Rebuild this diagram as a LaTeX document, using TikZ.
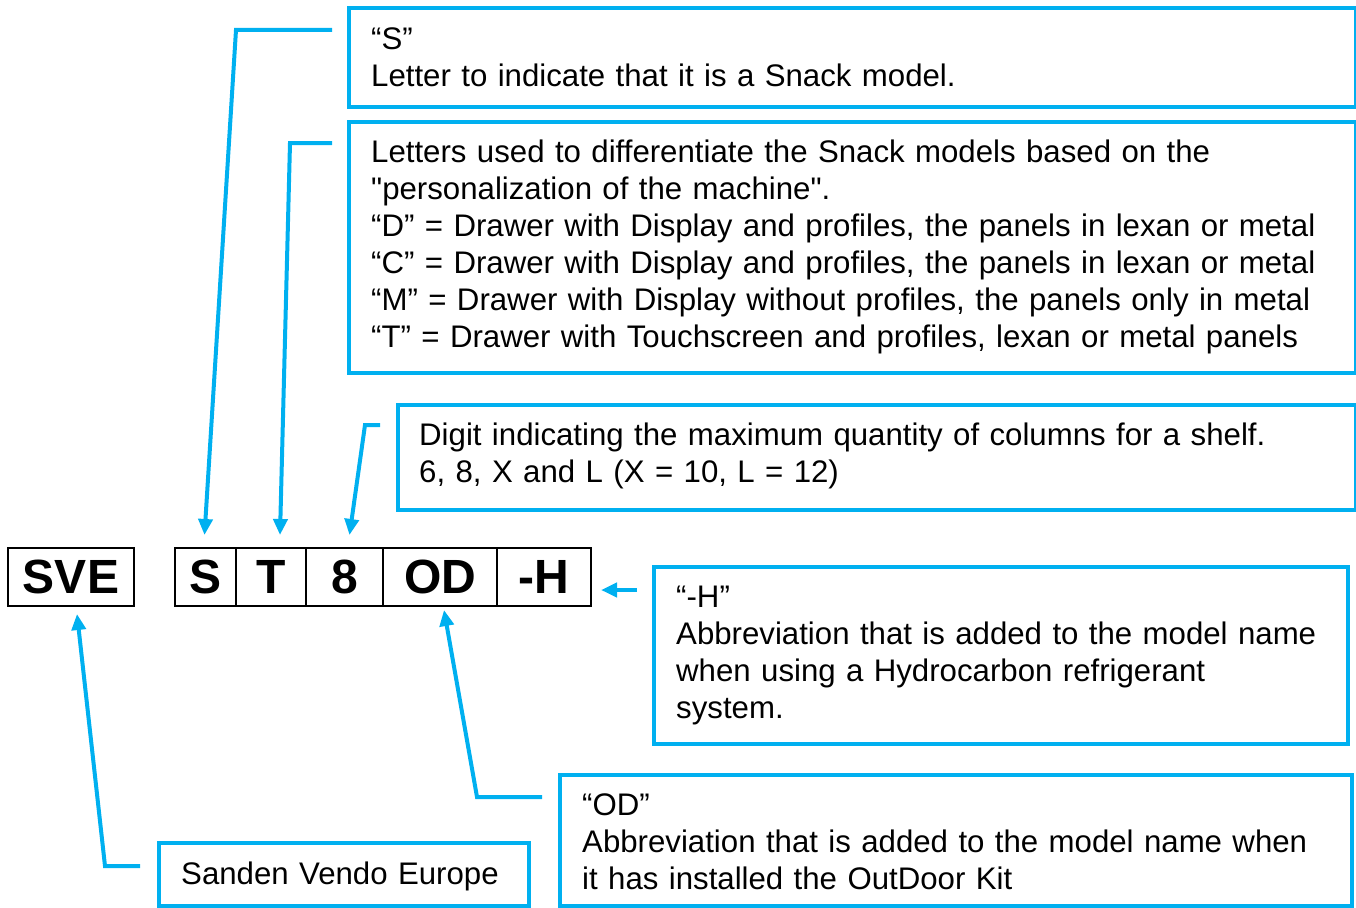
\documentclass[tikz,border=0pt]{standalone}
\usepackage{fontspec}
\setmainfont{Liberation Sans}[Ligatures=TeXOff]
\usetikzlibrary{arrows.meta,calc}
\definecolor{sky}{RGB}{0,176,240}
\tikzset{
  bluebox/.style={draw=sky, line width=4pt, anchor=north west, inner sep=0pt},
  txt/.style={anchor=base west, inner sep=0pt, align=left, text width=#1, font=\fontsize{31.2}{37}\selectfont},
  cell/.style={draw=black, line width=2pt, minimum height=58pt, inner sep=0pt, outer sep=0pt, anchor=west, font=\fontsize{48}{48}\selectfont\bfseries},
  conn/.style={draw=sky, line width=4pt, line join=miter, -{Triangle[length=16pt,width=14pt]}}
}
\begin{document}
\begin{tikzpicture}[x=1pt,y=-1pt]
\useasboundingbox (0,0) rectangle (1356,907);
% text boxes
\node[bluebox, minimum width=1007pt, minimum height=99pt] (b1) at (347,6) {};
\node[bluebox, minimum width=1007pt, minimum height=251pt] (b2) at (347,120) {};
\node[bluebox, minimum width=958pt, minimum height=105pt] (b3) at (396,403) {};
\node[bluebox, minimum width=694pt, minimum height=177pt] (b4) at (652,565) {};
\node[bluebox, minimum width=792pt, minimum height=131pt] (b5) at (558,773) {};
\node[bluebox, minimum width=370pt, minimum height=63pt] (b6) at (157,841) {};
% texts
\node[txt=980pt] (t1) at (371,49.5) {“S”\\Letter to indicate that it is a Snack model.};
\node[txt=980pt] (t2) at (371,162.5) {Letters used to differentiate the Snack models based on the\\"personalization of the machine".\\“D” = Drawer with Display and profiles, the panels in lexan or metal\\“C” = Drawer with Display and profiles, the panels in lexan or metal\\“M” = Drawer with Display without profiles, the panels only in metal\\“T” = Drawer with Touchscreen and profiles, lexan or metal panels};
\node[txt=930pt] (t3) at (419,445.5) {Digit indicating the maximum quantity of columns for a shelf.\\6, 8, X and L (X = 10, L = 12)};
\node[txt=670pt] (t4) at (676,607.5) {“-H”\\Abbreviation that is added to the model name\\when using a Hydrocarbon refrigerant\\system.};
\node[txt=770pt] (t5) at (582,815.5) {“OD”\\Abbreviation that is added to the model name when\\it has installed the OutDoor Kit};
\node[txt=340pt] (t6) at (181,884.5) {Sanden Vendo Europe};
% code cells
\node[cell, minimum width=126pt] (sve) at (8,577) {SVE};
\node[cell, minimum width=61pt] (cS) at (175,577) {S};
\node[cell, minimum width=70pt] (cT) at (cS.east) {T};
\node[cell, minimum width=77pt] (c8) at (cT.east) {8};
\node[cell, minimum width=114pt] (cOD) at (c8.east) {OD};
\node[cell, minimum width=94pt] (cH) at (cOD.east) {-H};
% connector starts
\coordinate (fS) at (332,30);
\coordinate (fT) at (332,143);
\coordinate (f8) at (380,425);
\coordinate (fH) at (637,590);
\coordinate (fOD) at (542,797);
\coordinate (fSVE) at (140,866);
% connectors
\draw[conn] (fS) -- (236,30) -- ([xshift=-1pt,yshift=13pt]cS.north);
\draw[conn] (fT) -- (290,143) -- ([xshift=9pt,yshift=13pt]cT.north);
\draw[conn] (f8) -- (365,425) -- ([xshift=5pt,yshift=13pt]c8.north);
\draw[conn] (fH) -- ([xshift=10pt,yshift=-13pt]cH.east);
\draw[conn] (fOD) -- (477,797) -- ([xshift=4pt,yshift=-4pt]cOD.south);
\draw[conn] (fSVE) -- (105,866) -- ([xshift=6pt,yshift=-8pt]sve.south);
\end{tikzpicture}
\end{document}
